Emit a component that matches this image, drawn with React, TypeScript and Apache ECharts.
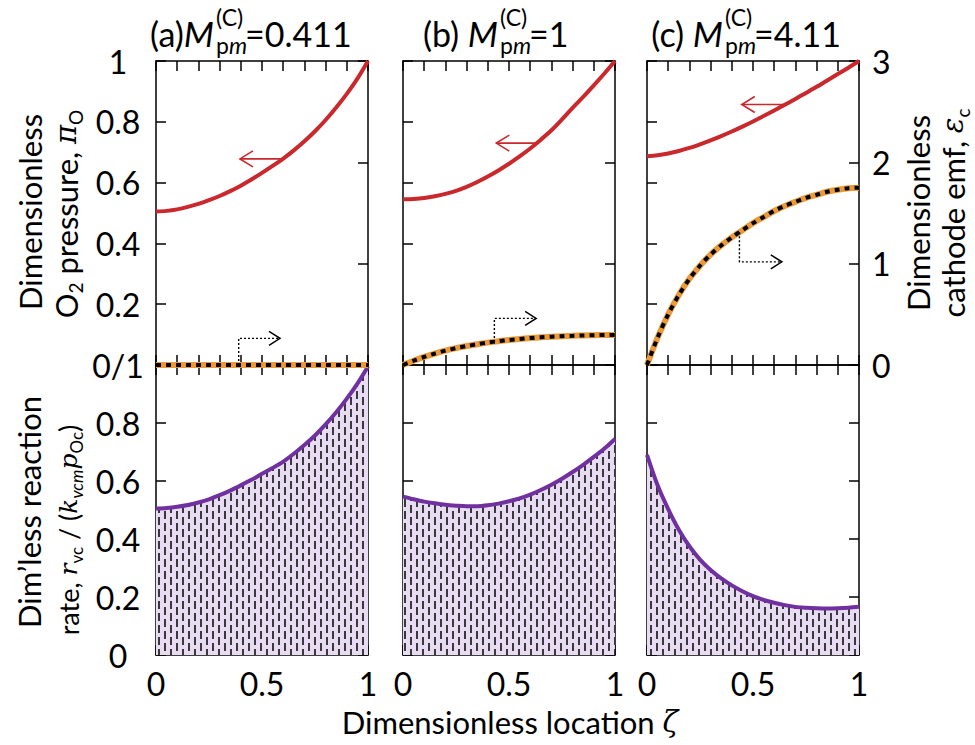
import React, { useEffect, useRef } from 'react';
import * as echarts from 'echarts';

// ---------- data ----------
const zeta = [0, 0.05, 0.1, 0.15, 0.2, 0.25, 0.3, 0.35, 0.4, 0.45, 0.5, 0.55, 0.6, 0.65, 0.7, 0.75, 0.8, 0.85, 0.9, 0.95, 1];

const pressureA = [0.505, 0.507, 0.512, 0.52, 0.53, 0.542, 0.556, 0.572, 0.59, 0.61, 0.632, 0.655, 0.679, 0.706, 0.736, 0.769, 0.806, 0.847, 0.892, 0.942, 1.0];
const pressureB = [0.545, 0.546, 0.549, 0.555, 0.563, 0.573, 0.586, 0.602, 0.62, 0.64, 0.662, 0.686, 0.712, 0.741, 0.772, 0.808, 0.846, 0.882, 0.92, 0.959, 1.0];
const pressureC = [0.687, 0.69, 0.696, 0.704, 0.714, 0.726, 0.739, 0.753, 0.768, 0.784, 0.801, 0.819, 0.837, 0.856, 0.875, 0.895, 0.915, 0.936, 0.957, 0.978, 1.0];

const emfA = [0, 0, 0, 0, 0, 0, 0, 0, 0, 0, 0, 0, 0, 0, 0, 0, 0, 0, 0, 0, 0];
const emfB = [0, 0.042, 0.08, 0.113, 0.142, 0.166, 0.187, 0.205, 0.221, 0.235, 0.247, 0.257, 0.266, 0.273, 0.279, 0.284, 0.288, 0.292, 0.294, 0.296, 0.297];
const emfC = [0, 0.27, 0.5, 0.69, 0.85, 0.98, 1.09, 1.18, 1.26, 1.33, 1.4, 1.46, 1.52, 1.57, 1.61, 1.65, 1.68, 1.71, 1.73, 1.745, 1.75];

const rateA = [0.505, 0.507, 0.511, 0.517, 0.526, 0.537, 0.551, 0.567, 0.585, 0.604, 0.625, 0.645, 0.667, 0.694, 0.724, 0.757, 0.795, 0.837, 0.884, 0.936, 0.995];
const rateB = [0.546, 0.537, 0.529, 0.523, 0.518, 0.515, 0.513, 0.513, 0.516, 0.522, 0.53, 0.54, 0.553, 0.569, 0.587, 0.608, 0.631, 0.656, 0.683, 0.712, 0.745];
const rateC = [0.69, 0.585, 0.503, 0.432, 0.375, 0.329, 0.293, 0.264, 0.24, 0.22, 0.203, 0.19, 0.18, 0.172, 0.166, 0.163, 0.161, 0.16, 0.161, 0.163, 0.166];

const panelLetters = ['(a)', '(b) ', '(c) '];
const panelM = ['0.411', '1', '4.11'];

const leftTicks = [0, 0.2, 0.4, 0.6, 0.8, 1];
const rightTicks = [0, 1, 2, 3];
const xTickLabels = ['0', '0.5', '1'];

// annotation arrows in data coordinates
const redArrows = [
  { from: [0.6, 0.678], to: [0.396, 0.678] },
  { from: [0.631, 0.73], to: [0.44, 0.73] },
  { from: [0.643, 0.857], to: [0.447, 0.857] },
];
const emfArrows = [
  { start: [0.39, 0], corner: [0.39, 0.263], end: [0.585, 0.263] },
  { start: [0.431, 0.228], corner: [0.431, 0.46], end: [0.628, 0.46] },
  { start: [0.436, 1.31], corner: [0.436, 1.018], end: [0.636, 1.018] },
];

// ---------- styles ----------
const FONT = 'Lato, "Open Sans", sans-serif';
const RED = '#c9282d';
const PURPLE = '#7030a0';
const ORANGE = '#eb9a3a';
const BLACK = '#000';

const GRID_LEFT = [156, 403, 647];
const GRID_W = 212;
const TOP_Y = 61;
const TOP_H = 304;
const BOT_Y = 365;
const BOT_H = 290;
const TITLE_M_END = [214, 498, 723];

function zip(xs: number[], ys: number[]) {
  return xs.map((x, i) => [x, ys[i]]);
}

function makePattern() {
  const c = document.createElement('canvas');
  c.width = 12;
  c.height = 12;
  const ctx = c.getContext('2d')!;
  ctx.fillStyle = '#e7dcf1';
  ctx.fillRect(0, 0, 12, 12);
  ctx.strokeStyle = '#111';
  ctx.lineWidth = 1.6;
  ctx.beginPath();
  ctx.moveTo(3, 1);
  ctx.lineTo(3, 9);
  ctx.moveTo(9, 7);
  ctx.lineTo(9, 12);
  ctx.moveTo(9, 0);
  ctx.lineTo(9, 3);
  ctx.stroke();
  return c;
}

const fmtNum = (v: number) => String(Number(v.toFixed(2)));
const near = (a: number, b: number) => Math.abs(a - b) < 1e-6;

export default function App() {
  const ref = useRef<HTMLDivElement>(null);

  useEffect(() => {
    document.body.style.margin = '0';
    const chart = echarts.init(ref.current!, null, { renderer: 'svg' });
    const pattern = makePattern();

    const lineAxis = { show: true, onZero: false, lineStyle: { color: BLACK, width: 1.5 } };
    const tick = { show: true, inside: true, length: 10, lineStyle: { color: BLACK, width: 1.5 } };
    const labelBase = { color: BLACK, fontFamily: FONT, fontSize: 32 };

    const grids: any[] = [];
    const xAxes: any[] = [];
    const yAxes: any[] = [];
    const series: any[] = [];

    const pressures = [pressureA, pressureB, pressureC];
    const emfs = [emfA, emfB, emfC];
    const rates = [rateA, rateB, rateC];

    for (let row = 0; row < 2; row++) {
      for (let col = 0; col < 3; col++) {
        const g = row * 3 + col;
        grids.push({
          left: GRID_LEFT[col],
          top: row === 0 ? TOP_Y : BOT_Y,
          width: GRID_W,
          height: row === 0 ? TOP_H : BOT_H,
          containLabel: false,
        });
        xAxes.push({
          type: 'value', gridIndex: g, min: 0, max: 1, interval: 0.1, position: 'bottom',
          axisLine: lineAxis, axisTick: tick, splitLine: { show: false },
          axisLabel: {
            show: row === 1,
            ...labelBase,
            margin: 12,
            formatter: (v: number) => {
              const s = fmtNum(v);
              return xTickLabels.indexOf(s) >= 0 ? s : '';
            },
          },
        });
        xAxes.push({
          type: 'value', gridIndex: g, min: 0, max: 1, interval: 0.1, position: 'top',
          axisLine: lineAxis, axisTick: tick, splitLine: { show: false },
          axisLabel: { show: false },
        });
        yAxes.push({
          type: 'value', gridIndex: g, min: leftTicks[0], max: leftTicks[leftTicks.length - 1], interval: 0.2,
          position: 'left',
          axisLine: lineAxis, axisTick: tick, splitLine: { show: false },
          axisLabel: {
            show: col === 0,
            ...labelBase,
            align: 'center',
            margin: 38,
            formatter: (v: number) => {
              if (row === 0 && near(v, 0)) return '0/1';
              if (row === 1 && near(v, 1)) return '';
              return fmtNum(v);
            },
          },
        });
        if (row === 0) {
          yAxes.push({
            type: 'value', gridIndex: g, min: rightTicks[0], max: rightTicks[rightTicks.length - 1], interval: 1,
            position: 'right',
            axisLine: lineAxis, axisTick: tick, splitLine: { show: false },
            axisLabel: { show: col === 2, ...labelBase, margin: 13 },
          });
        } else {
          yAxes.push({
            type: 'value', gridIndex: g, min: 0, max: 1, interval: 0.2,
            position: 'right',
            axisLine: lineAxis, axisTick: tick, splitLine: { show: false },
            axisLabel: { show: false },
          });
        }

        if (row === 0) {
          series.push({
            type: 'line', xAxisIndex: 2 * g, yAxisIndex: 2 * g, data: zip(zeta, pressures[col]),
            smooth: 0.3, showSymbol: false, symbol: 'none', lineStyle: { color: RED, width: 4 }, z: 3,
          });
          series.push({
            type: 'line', xAxisIndex: 2 * g, yAxisIndex: 2 * g + 1, data: zip(zeta, emfs[col]),
            smooth: 0.3, showSymbol: false, symbol: 'none', lineStyle: { color: ORANGE, width: 6 }, z: 4,
          });
          series.push({
            type: 'line', xAxisIndex: 2 * g, yAxisIndex: 2 * g + 1, data: zip(zeta, emfs[col]),
            smooth: 0.3, showSymbol: false, symbol: 'none',
            lineStyle: { color: BLACK, width: 4, type: [5, 5] }, z: 5,
          });
        } else {
          series.push({
            type: 'line', xAxisIndex: 2 * g, yAxisIndex: 2 * g, data: zip(zeta, rates[col]),
            smooth: 0.3, showSymbol: false, symbol: 'none',
            lineStyle: { color: PURPLE, width: 4 },
            areaStyle: { color: { image: pattern, repeat: 'repeat' }, opacity: 1 },
            z: 3,
          });
        }
      }
    }

    chart.setOption({
      animation: false,
      backgroundColor: '#fff',
      grid: grids,
      xAxis: xAxes,
      yAxis: yAxes,
      series,
    });

    // ---------- graphic annotations ----------
    const graphic: any[] = [];
    const txt = (x: number, y: number, text: string, size: number, extra: any = {}, rot = 0) => ({
      type: 'text', x, y, rotation: rot, z: 100,
      style: {
        text, fill: BLACK, fontFamily: FONT, fontSize: size,
        align: 'center', verticalAlign: 'middle', ...extra,
      },
    });

    for (let c = 0; c < 3; c++) {
      const m = TITLE_M_END[c];
      graphic.push(txt(m, 33, `{n|${panelLetters[c]}}{i|M}`, 34, {
        align: 'right',
        rich: {
          n: { fontFamily: FONT, fontSize: 34, fill: BLACK },
          i: { fontFamily: FONT, fontSize: 35, fontStyle: 'italic', fill: BLACK },
        },
      }));
      graphic.push(txt(m + 2, 17, '(C)', 23, { align: 'left' }));
      graphic.push(txt(m + 2, 45, '{p|p}{m|m}', 23, {
        align: 'left',
        rich: {
          p: { fontFamily: FONT, fontSize: 23, fill: BLACK },
          m: { fontFamily: FONT, fontSize: 23, fontStyle: 'italic', fill: BLACK },
        },
      }));
      graphic.push(txt(m + 31, 33, '=' + panelM[c], 34, { align: 'left' }));
    }

    const richV = (size: number) => ({
      n: { fontFamily: FONT, fontSize: size, fill: BLACK, lineHeight: size + 6, verticalAlign: 'middle' },
      s: { fontFamily: FONT, fontSize: Math.round(size * 0.62), fill: BLACK, verticalAlign: 'bottom', lineHeight: Math.round(size * 0.62) },
      i: { fontFamily: '"DejaVu Serif", serif', fontStyle: 'italic', fontSize: size - 2, fill: BLACK, lineHeight: size + 6, verticalAlign: 'middle' },
      is: { fontFamily: FONT, fontStyle: 'italic', fontSize: Math.round(size * 0.62), fill: BLACK, verticalAlign: 'bottom', lineHeight: Math.round(size * 0.62) },
    });
    const R = Math.PI / 2;
    graphic.push(txt(30, 212, 'Dimensionless', 31, {}, R));
    graphic.push(txt(66, 214, '{n|O}{s|2}{n| pressure, }{i|π}{s|O}', 31, { rich: richV(31) }, R));
    graphic.push(txt(29, 512, 'Dim’less reaction', 31, {}, R));
    graphic.push(txt(68, 530, '{n|rate, }{i|r}{s|vc}{n| / (}{i|k}{is|vcm}{i|p}{s|Oc}{n|)}', 27, { rich: richV(27) }, R));
    graphic.push(txt(918, 213, 'Dimensionless', 31, {}, R));
    graphic.push(txt(953, 213, '{n|cathode emf, }{i|ε}{s|c}', 31, { rich: richV(31) }, R));
    graphic.push(txt(510, 722, '{n|Dimensionless location }{i|ζ}', 31, { rich: richV(31) }));

    for (let c = 0; c < 3; c++) {
      const ra = redArrows[c];
      const p1 = chart.convertToPixel({ xAxisIndex: 2 * c, yAxisIndex: 2 * c }, ra.from as any) as any;
      const p2 = chart.convertToPixel({ xAxisIndex: 2 * c, yAxisIndex: 2 * c }, ra.to as any) as any;
      graphic.push({
        type: 'line', z: 50, shape: { x1: p1[0], y1: p1[1], x2: p2[0], y2: p2[1] },
        style: { stroke: RED, lineWidth: 1.6 },
      });
      graphic.push({
        type: 'polyline', z: 50,
        shape: { points: [[p2[0] + 13, p2[1] - 8], [p2[0], p2[1]], [p2[0] + 13, p2[1] + 8]] },
        style: { stroke: RED, lineWidth: 1.6, fill: 'none' },
      });

      const ea = emfArrows[c];
      const q = [ea.start, ea.corner, ea.end].map(
        (p) => chart.convertToPixel({ xAxisIndex: 2 * c, yAxisIndex: 2 * c + 1 }, p as any) as any
      );
      graphic.push({
        type: 'polyline', z: 50,
        shape: { points: q },
        style: { stroke: BLACK, lineWidth: 1.4, lineDash: [2, 2], fill: 'none' },
      });
      const e = q[2];
      graphic.push({
        type: 'polyline', z: 50,
        shape: { points: [[e[0] - 11, e[1] - 7], [e[0], e[1]], [e[0] - 11, e[1] + 7]] },
        style: { stroke: BLACK, lineWidth: 1.5, fill: 'none' },
      });
    }

    chart.setOption({ graphic });

    return () => chart.dispose();
  }, []);

  return <div ref={ref} style={{ width: 975, height: 745 }} />;
}
